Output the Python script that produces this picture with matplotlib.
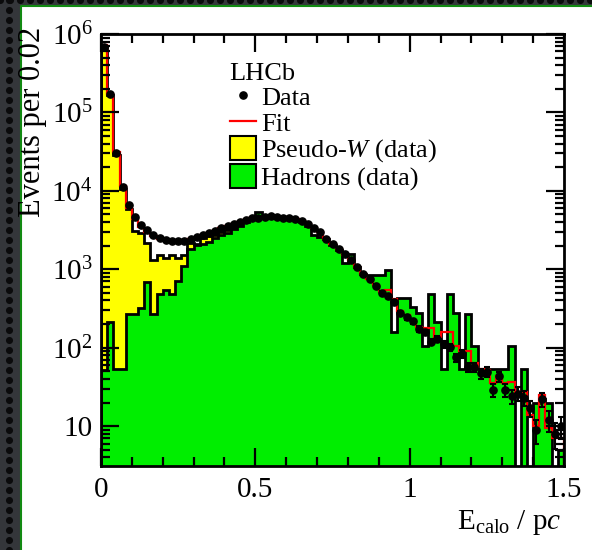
import numpy as np
import matplotlib.pyplot as plt
from matplotlib.lines import Line2D
from matplotlib.patches import Patch, Rectangle
from matplotlib.ticker import FixedLocator, FixedFormatter, LogLocator, MultipleLocator, NullFormatter

plt.rcParams['font.family'] = ['Liberation Serif', 'DejaVu Serif']
plt.rcParams['mathtext.fontset'] = 'custom'
plt.rcParams['mathtext.rm'] = 'Liberation Serif'
plt.rcParams['mathtext.it'] = 'Liberation Serif:italic'
plt.rcParams['mathtext.bf'] = 'Liberation Serif:bold'

# E_calo / pc in bins of 0.02 from 0 to 1.5
bin_width = 0.02
n_bins = 75

data_counts = [
    6.8e5, 1.7e5, 3.0e4, 1.12e4, 6600, 4700, 3660, 3160, 2730, 2480,
    2355, 2290, 2290, 2320, 2400, 2550, 2730, 2920, 3100, 3325,
    3560, 3775, 4040, 4245, 4460, 4540, 4675, 4810, 4675, 4540,
    4540, 4330, 4120, 3740, 3325, 2950, 2425, 2095, 1810, 1550,
    1310, 1056, 877, 743, 616, 502, 455, 385, 280, 243,
    218, 174, 158, 118, 130, 111, 102, 75, 83, 57,
    56, 47, 49, 29, 43, 29, 24, 26, 23, 17,
    9, 22, 12, 8, 10,
]

fit_counts = [
    7.2e5, 1.72e5, 3.1e4, 1.15e4, 6100, 4400, 3500, 3000, 2650, 2450,
    2350, 2300, 2300, 2330, 2420, 2540, 2720, 2900, 3100, 3320,
    3550, 3780, 4030, 4250, 4450, 4600, 4700, 4780, 4700, 4580,
    4500, 4330, 4100, 3760, 3380, 2960, 2450, 2100, 1820, 1520,
    1330, 1060, 880, 750, 630, 520, 540, 420, 290, 260,
    225, 185, 176, 176, 138, 160, 160, 105, 91, 91,
    64, 53, 52, 35, 43, 35, 37, 27, 27, 14,
    10, 25, 9.5, 7, 7,
]

pseudo_w = [
    7.0e5, 1.65e5, 2.9e4, 1.05e4, 5800, 3100, 2870, 2180, 1310, 1520,
    1380, 1520, 1380, 1520, 2180, 2110, 2500, 2650, 2750, 2980,
    3150, 3350, 3600, 3900, 4100, 4000, 3600, 3100, 2600, 2100,
    1700, 1300, 1000, 750, 550, 400, 280, 190, 130, 90,
    60, 40, 25, 15, 10, 6, 4, 2, 0, 0,
    0, 0, 0, 0, 0, 0, 0, 0, 0, 0,
    0, 0, 0, 0, 0, 0, 0, 0, 0, 0,
    0, 0, 0, 0, 0,
]

hadrons = [
    52, 214, 53, 53, 268, 268, 323, 693, 268, 483,
    543, 483, 714, 1110, 1830, 2020, 2110, 2230, 2500, 2720,
    2920, 3300, 3600, 4000, 4460, 5400, 4600, 4750, 4700, 4450,
    4500, 4200, 4000, 3600, 2730, 2600, 2400, 2050, 1780, 1190,
    1550, 1060, 860, 843, 843, 843, 977, 160, 426, 426,
    333, 274, 105, 483, 214, 53, 483, 274, 53, 266,
    105, 53, 53, 53, 53, 53, 105, 0, 53, 0,
    20, 22, 20, 0, 5,
]

edges = np.arange(n_bins + 1) * bin_width
centers = edges[:-1] + bin_width / 2
floor = 0.1

fig = plt.figure(figsize=(5.92, 5.5), dpi=100, facecolor='#34363a')

# slide-style backdrop: dark perforated border around a white panel
bg = fig.add_axes([0, 0, 1, 1], zorder=-10)
bg.set_xlim(0, 592)
bg.set_ylim(550, 0)
bg.axis('off')
bg.set_facecolor('#34363a')
ys = np.arange(0, 551, 10)
bg.scatter(np.full(ys.size, 9), ys, s=26, color='#0b0b0c', lw=0)
xs = np.arange(0, 593, 10)
bg.scatter(xs, np.full(xs.size, 0), s=26, color='#0b0b0c', lw=0)
bg.add_patch(Rectangle((21, 6), 571, 544, facecolor='white', edgecolor='none'))
bg.plot([21, 21, 592], [550, 6, 6], color='#128a12', lw=1.5)

ax = fig.add_axes([101 / 592, 84 / 550, 463 / 592, 432 / 550])
ax.set_yscale('log')

yel = np.clip(pseudo_w, floor, None)
grn = np.clip(hadrons, floor, None)

ax.stairs(yel, edges, baseline=floor, fill=True, color='#ffff00', zorder=1)
ax.stairs(yel, edges, baseline=floor, color='black', lw=2, zorder=2)
ax.stairs(grn, edges, baseline=floor, fill=True, color='#00ee00', zorder=3)
ax.stairs(grn, edges, baseline=floor, color='black', lw=2, zorder=4)
ax.stairs(fit_counts, edges, baseline=floor, color='red', lw=1.6, zorder=5)

data = np.array(data_counts)
ax.errorbar(centers, data, yerr=np.sqrt(data), fmt='o', color='black',
            ms=5.2, elinewidth=1.5, capsize=2, capthick=1.5, zorder=6)

ax.set_xlim(0, 1.5)
ax.set_ylim(3.1, 1e6)

ax.xaxis.set_major_locator(FixedLocator([0, 0.5, 1, 1.5]))
ax.xaxis.set_major_formatter(FixedFormatter(['0', '0.5', '1', '1.5']))
ax.xaxis.set_minor_locator(MultipleLocator(0.1))

ax.yaxis.set_major_locator(FixedLocator([10, 1e2, 1e3, 1e4, 1e5, 1e6]))
ax.yaxis.set_major_formatter(FixedFormatter(
    ['10', '$10^{2}$', '$10^{3}$', '$10^{4}$', '$10^{5}$', '$10^{6}$']))
ax.yaxis.set_minor_locator(LogLocator(base=10, subs=np.arange(2, 10), numticks=20))
ax.yaxis.set_minor_formatter(NullFormatter())

ax.tick_params(which='both', direction='in', top=True, right=True, width=1.6,
               labelsize=21)
ax.tick_params(which='major', length=13)
ax.tick_params(which='minor', length=6.5)
ax.tick_params(axis='x', pad=8)
ax.tick_params(axis='y', pad=6)
ax.xaxis.set_zorder(10)
ax.yaxis.set_zorder(10)
for sp in ax.spines.values():
    sp.set_linewidth(2)
    sp.set_zorder(10)

fig.text(33 / 592, 1 - 27 / 550, 'Events per 0.02', rotation=90,
         ha='center', va='top', fontsize=22)
fig.text(562 / 592, 1 - 508 / 550, r'E$_{\rm calo}$ / p$c$',
         ha='right', va='top', fontsize=21)

handles = [
    Line2D([], [], marker='o', ls='none', color='black', ms=5.2),
    Line2D([], [], color='red', lw=1.6),
    Patch(facecolor='#ffff00', edgecolor='black', lw=1.5),
    Patch(facecolor='#00ee00', edgecolor='black', lw=1.5),
]
labels = ['Data', 'Fit', r'Pseudo-$W$ (data)', 'Hadrons (data)']
ax.legend(handles, labels, title='LHCb', loc='upper left',
          bbox_to_anchor=(0.278, 0.934), frameon=False, fontsize=19,
          title_fontsize=19, handlelength=1.0, handleheight=1.0,
          handletextpad=0.2, labelspacing=0.0, borderaxespad=0,
          borderpad=0, alignment='left')

fig.savefig('out.png', dpi=100, facecolor=fig.get_facecolor())
